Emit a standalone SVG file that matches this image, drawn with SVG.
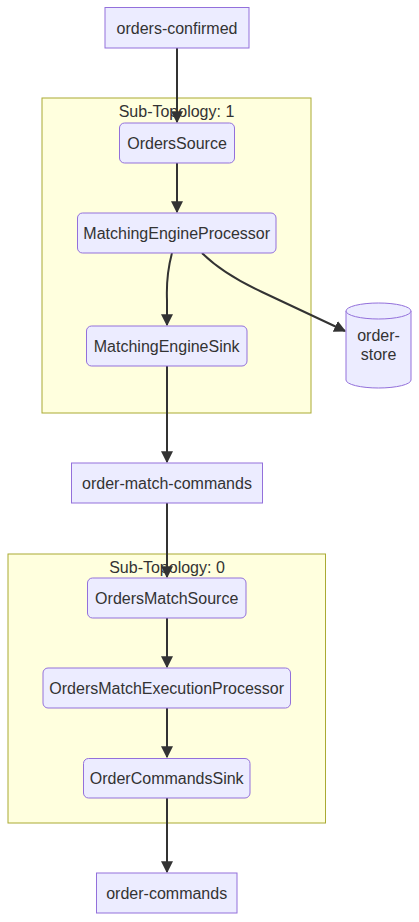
<svg xmlns="http://www.w3.org/2000/svg" width="419" height="922" viewBox="0 0 419 922">
<defs>
<style>
.cluster rect{fill:#ffffde;stroke:#aaaa33;stroke-width:1}
.node rect,.node path,.node ellipse{fill:#ececff;stroke:#9370db;stroke-width:1}
text{font-family:"Liberation Sans",Arial,sans-serif;font-size:16px;fill:#333;text-anchor:middle}
.edge{fill:none;stroke:#333;stroke-width:2}
</style>
<marker id="arrow" viewBox="0 0 10 10" refX="9" refY="5" markerUnits="userSpaceOnUse" markerWidth="12" markerHeight="12" orient="auto">
<path d="M0,0 L10,5 L0,10 z" fill="#333"/>
</marker>
</defs>
<rect width="419" height="922" fill="#ffffff"/>
<g id="subtopology-1" class="cluster">
<rect x="42" y="98" width="269" height="315"/>
<text x="176.5" y="117">Sub-Topology: 1</text>
</g>
<g id="subtopology-0" class="cluster">
<rect x="8" y="554" width="317.5" height="269"/>
<text x="167" y="573">Sub-Topology: 0</text>
</g>
<g id="edges">
<path class="edge" d="M177,48 L177,122" marker-end="url(#arrow)"/>
<path class="edge" d="M177,163 L177,212" marker-end="url(#arrow)"/>
<path class="edge" d="M172,253 Q166,275 167,300 L167,325" marker-end="url(#arrow)"/>
<path class="edge" d="M202,253 C215,266 232,278 262,292 L345,331" marker-end="url(#arrow)"/>
<path class="edge" d="M167,366 L167,462" marker-end="url(#arrow)"/>
<path class="edge" d="M167,503 L167,577" marker-end="url(#arrow)"/>
<path class="edge" d="M167,618 L167,667" marker-end="url(#arrow)"/>
<path class="edge" d="M167,708 L167,757" marker-end="url(#arrow)"/>
<path class="edge" d="M167,798 L167,872" marker-end="url(#arrow)"/>
</g>
<g id="orders-confirmed" class="node">
<rect x="105" y="7.5" width="144" height="40.5"/>
<text x="177" y="33.5">orders-confirmed</text>
</g>
<g id="OrdersSource" class="node">
<rect x="119.5" y="123" width="115" height="40" rx="5"/>
<text x="177" y="148.5">OrdersSource</text>
</g>
<g id="MatchingEngineProcessor" class="node">
<rect x="77.5" y="213" width="198.5" height="40" rx="5"/>
<text x="176.7" y="238.5">MatchingEngineProcessor</text>
</g>
<g id="MatchingEngineSink" class="node">
<rect x="86.5" y="326" width="160.5" height="40" rx="5"/>
<text x="166.7" y="351.5">MatchingEngineSink</text>
</g>
<g id="order-store" class="node">
<path d="M346,311 A32.5,8 0 0 1 411,311 L411,380 A32.5,8 0 0 1 346,380 Z"/>
<path d="M346,311 A32.5,8 0 0 0 411,311" fill="none"/>
<text x="378.5" y="341">order-</text>
<text x="378.5" y="360">store</text>
</g>
<g id="order-match-commands" class="node">
<rect x="71.5" y="463" width="191" height="40"/>
<text x="167" y="488.5">order-match-commands</text>
</g>
<g id="OrdersMatchSource" class="node">
<rect x="87.5" y="578" width="158.5" height="40" rx="5"/>
<text x="166.7" y="603.5">OrdersMatchSource</text>
</g>
<g id="OrdersMatchExecutionProcessor" class="node">
<rect x="43" y="668" width="247.5" height="40" rx="5"/>
<text x="166.7" y="693.5">OrdersMatchExecutionProcessor</text>
</g>
<g id="OrderCommandsSink" class="node">
<rect x="83.5" y="758.5" width="166.5" height="39.5" rx="5"/>
<text x="166.7" y="783.5">OrderCommandsSink</text>
</g>
<g id="order-commands" class="node">
<rect x="96.5" y="873" width="140.5" height="40"/>
<text x="166.7" y="898.5">order-commands</text>
</g>
</svg>
